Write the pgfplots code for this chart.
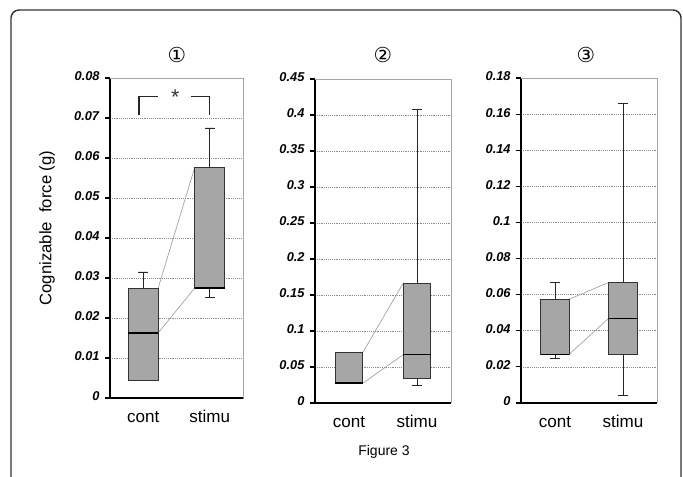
\documentclass[border=0pt]{standalone}
\usepackage{pgfplots}
\pgfplotsset{compat=1.18}
\usepgfplotslibrary{statistics}
\usepackage{fontspec}
\setmainfont{Liberation Sans}
\newfontfamily\dejavu{DejaVu Sans}
\definecolor{boxgray}{HTML}{A6A6A6}
\definecolor{linkgray}{HTML}{A0A0A0}
\definecolor{framegray}{HTML}{333333}
\newcommand{\tl}[1]{\textbf{\textit{#1}}}
\pgfplotsset{
  panel/.style={
    scale only axis,
    anchor=north west,
    xmin=-0.5, xmax=1.5,
    ymin=0,
    scaled y ticks=false,
    axis x line*=bottom,
    axis y line*=left,
    axis line style={-},
    x axis line style={black, line width=1pt},
    y axis line style={black, line width=1.3pt},
    xtick={0,1},
    xticklabels={cont,stimu},
    xtick style={draw=none},
    typeset ticklabels with strut,
    xticklabel style={font=\fontsize{12.8}{14}\selectfont, yshift=-1pt},
    yticklabel style={font=\fontsize{9.6}{11}\selectfont, xshift=-0.5pt},
    tick align=outside,
    major tick length=3.8pt,
    ytick style={black, line width=0.8pt},
    ymajorgrids,
    grid style={densely dotted, gray!90, line width=0.5pt},
    boxplot/draw direction=y,
    boxplot/whisker extend=0.15,
    boxplot/every median/.style={black, line width=1.1pt},
    boxplot/every whisker/.style={black!85, line width=0.7pt},
    boxplot/every box/.style={draw=black!80, line width=0.7pt},
  },
  bx/.style={fill=boxgray, draw=black!80, line width=0.7pt, mark=none},
  lnk/.style={linkgray, line width=0.5pt, mark=none},
}
\begin{document}
\begin{tikzpicture}
\path[use as bounding box] (0,0) rectangle (512.25pt,-357.75pt);
\draw[framegray, line width=1.1pt, rounded corners=6pt] (8.25pt,-7.5pt) rectangle (510.75pt,-380pt);

% Panel 1
\begin{axis}[panel, at={(82.5pt,-58.5pt)}, width=99.75pt, height=240pt,
  ymax=0.08, ytick={0,0.01,0.02,0.03,0.04,0.05,0.06,0.07,0.08},
  yticklabels={\tl{0},\tl{0.01},\tl{0.02},\tl{0.03},\tl{0.04},\tl{0.05},\tl{0.06},\tl{0.07},\tl{0.08}},
  boxplot/box extend=0.45]
\addplot[lnk] coordinates {(0.225,0.0275) (0.775,0.0577)};
\addplot[lnk] coordinates {(0.225,0.0163) (0.775,0.0275)};
\addplot[bx, boxplot prepared={lower whisker=0.0045, lower quartile=0.0045, median=0.0163, upper quartile=0.0275, upper whisker=0.0315, draw position=0}] coordinates {};
\addplot[bx, boxplot prepared={lower whisker=0.0251, lower quartile=0.0275, median=0.0275, upper quartile=0.0577, upper whisker=0.0675, draw position=1}] coordinates {};
\addplot[black!85, line width=0.8pt, mark=none] coordinates {(-0.064,0.0708) (-0.064,0.0753) (0.22,0.0753)};
\addplot[black!85, line width=0.8pt, mark=none] coordinates {(0.72,0.0753) (1.0,0.0753) (1.0,0.0708)};
\node[font=\fontsize{16}{17}\selectfont, text=black!80] at (axis cs:0.48,0.0752) {*};
\end{axis}
\draw[gray!70, line width=0.6pt] (82.5pt,-58.5pt) -- (182.25pt,-58.5pt) -- (182.25pt,-298.5pt);

% Panel 2
\begin{axis}[panel, at={(236.25pt,-59.25pt)}, width=102pt, height=243pt,
  ymax=0.45, ytick={0,0.05,0.1,0.15,0.2,0.25,0.3,0.35,0.4,0.45},
  yticklabels={\tl{0},\tl{0.05},\tl{0.1},\tl{0.15},\tl{0.2},\tl{0.25},\tl{0.3},\tl{0.35},\tl{0.4},\tl{0.45}},
  boxplot/box extend=0.41]
\addplot[lnk] coordinates {(0.205,0.0705) (0.795,0.166)};
\addplot[lnk] coordinates {(0.205,0.0275) (0.795,0.067)};
\addplot[bx, boxplot prepared={lower whisker=0.0275, lower quartile=0.0275, median=0.0275, upper quartile=0.0705, upper whisker=0.0705, draw position=0}, boxplot/whisker extend=0] coordinates {};
\addplot[bx, boxplot prepared={lower whisker=0.024, lower quartile=0.0345, median=0.067, upper quartile=0.166, upper whisker=0.408, draw position=1}] coordinates {};
\end{axis}
\draw[gray!70, line width=0.6pt] (236.25pt,-59.25pt) -- (338.25pt,-59.25pt) -- (338.25pt,-302.25pt);

% Panel 3
\begin{axis}[panel, at={(390.75pt,-58.5pt)}, width=102pt, height=243.75pt,
  ymax=0.18, ytick={0,0.02,0.04,0.06,0.08,0.1,0.12,0.14,0.16,0.18},
  yticklabels={\tl{0},\tl{0.02},\tl{0.04},\tl{0.06},\tl{0.08},\tl{0.1},\tl{0.12},\tl{0.14},\tl{0.16},\tl{0.18}},
  boxplot/box extend=0.42]
\addplot[lnk] coordinates {(0.21,0.0575) (0.79,0.0668)};
\addplot[lnk] coordinates {(0.21,0.027) (0.79,0.0469)};
\addplot[bx, boxplot prepared={lower whisker=0.0248, lower quartile=0.027, median=0.027, upper quartile=0.0575, upper whisker=0.0668, draw position=0}] coordinates {};
\addplot[bx, boxplot prepared={lower whisker=0.0039, lower quartile=0.027, median=0.0469, upper quartile=0.0668, upper whisker=0.166, draw position=1}] coordinates {};
\end{axis}
\draw[gray!70, line width=0.6pt] (390.75pt,-58.5pt) -- (492.75pt,-58.5pt) -- (492.75pt,-302.25pt);

% Titles and labels
\node[font=\dejavu\fontsize{15.5}{17}\selectfont] at (132.75pt,-41.25pt) {①};
\node[font=\dejavu\fontsize{15.5}{17}\selectfont] at (287.25pt,-41.25pt) {②};
\node[font=\dejavu\fontsize{15.5}{17}\selectfont] at (439.5pt,-41.25pt) {③};
\node[rotate=90, font=\fontsize{12.5}{14}\selectfont] at (35.25pt,-171pt) {Cognizable\ \ force (g)};
\node[font=\fontsize{10.5}{12}\selectfont] at (288pt,-339pt) {Figure 3};
\end{tikzpicture}
\end{document}
